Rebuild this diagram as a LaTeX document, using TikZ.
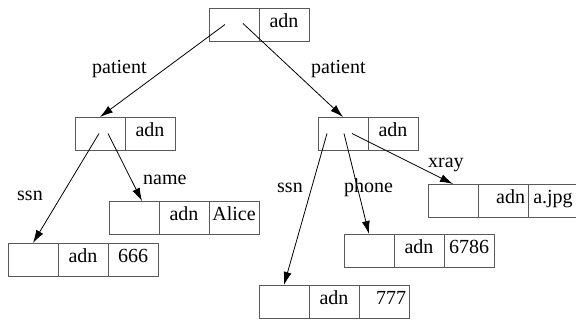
\documentclass[tikz,border=0pt]{standalone}
\usepackage{fontspec}
\setmainfont{Liberation Serif}
\usetikzlibrary{arrows.meta,calc,positioning}

\begin{document}
\begin{tikzpicture}[x=1pt,y=-1pt,>={Latex[length=13pt,width=8pt]},
  font=\fontsize{20}{23}\selectfont,
  cell/.style={draw=black!65,line width=.8pt,minimum width=50pt,minimum height=33pt,
    inner sep=0pt,outer sep=0pt,text height=1.5ex,text depth=.3ex,anchor=north west},
  ccell/.style={cell},
  rcell/.style={cell,text width=44pt,align=right},
  lbl/.style={anchor=base west,inner sep=0pt},
  link/.style={->,line width=.8pt}]
\useasboundingbox (0,0) rectangle (576,320);
% top record
\node[cell] (root) at (209,8) {};
\node[cell,right=0pt of root] (root-a) {adn};
% the two patients
\foreach \n/\x in {p1/75,p2/318}{
\node[cell] (\n) at (\x,117) {};
\node[cell,right=0pt of \n] (\n-a) {adn};}
% leaves
\foreach \n/\x/\y/\v/\sa/\sv in {p1ssn/8/243/666/ccell/ccell,p1name/109/201/Alice/ccell/ccell,
  p2ssn/259/285/777/ccell/rcell,p2phone/344/234/6786/ccell/ccell,p2xray/428/184/a.jpg/rcell/ccell}{
\node[cell] (\n) at (\x,\y) {};
\node[\sa,right=0pt of \n] (\n-a) {adn};
\node[\sv,right=0pt of \n-a] (\n-v) {\v};}
% edges
\draw[link] ($(root)+(-9,0)$) -- (p1.north);
\draw[link] ($(root)+(9,-1)$) -- (p2.north);
\draw[link] ($(p1)+(-1,0)$) -- (p1ssn.north);
\draw[link] ($(p1)+(8,0)$) -- ([xshift=8pt]p1name.north);
\draw[link] ($(p2)+(-16,0)$) -- (p2ssn.north);
\draw[link] ($(p2)+(1,0)$) -- (p2phone.north);
\draw[link] ($(p2)+(9,0)$) -- (p2xray.north);
% labels
\node[lbl] (lpat1) at (92,74) {patient};
\node[lbl] (lpat2) at (311,74) {patient};
\node[lbl] (lssn1) at (17,201) {ssn};
\node[lbl] (lname) at (143,185) {name};
\node[lbl] (lssn2) at (277,193) {ssn};
\node[lbl] (lphone) at (344,193) {phone};
\node[lbl] (lxray) at (428,168) {xray};
\end{tikzpicture}
\end{document}
